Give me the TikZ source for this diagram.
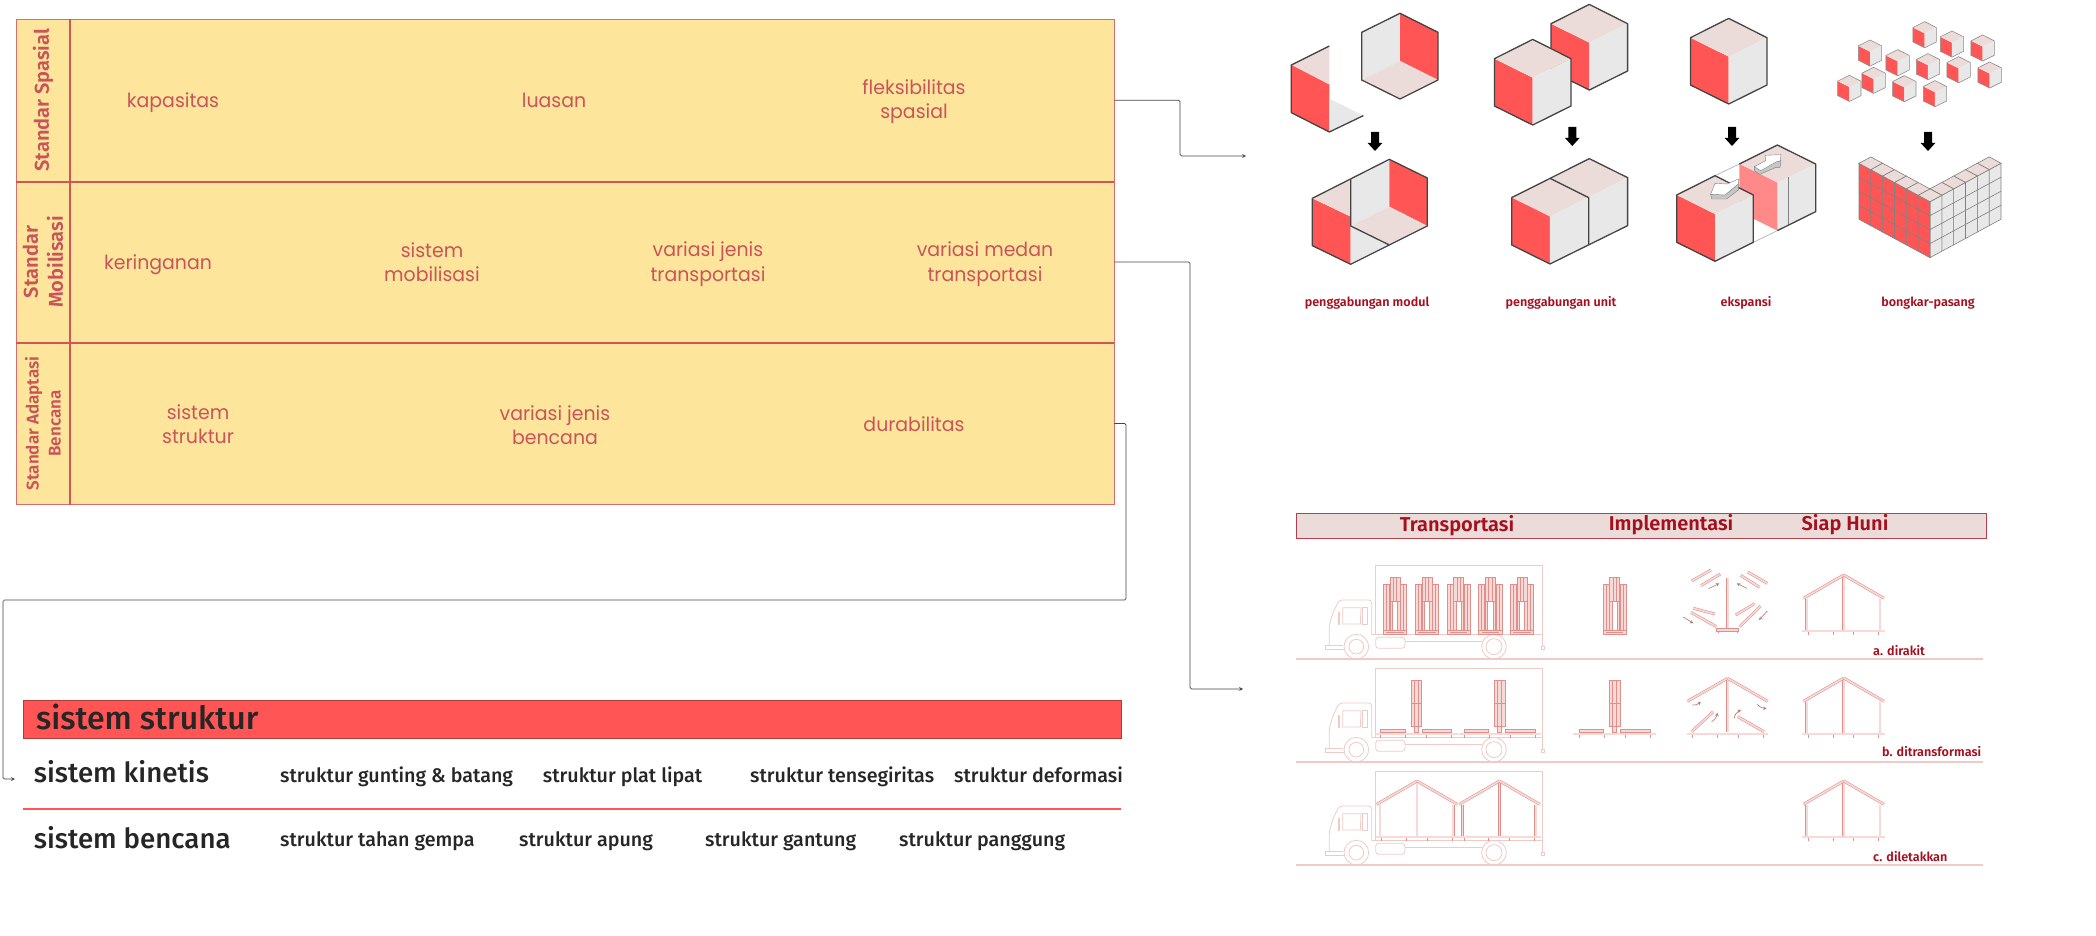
\documentclass[tikz,border=0pt]{standalone}
\usepackage{fontspec}
\usepackage{tikz}
\setmainfont{Fira Sans}[BoldFont={Fira Sans SemiBold}]
\newfontfamily\firamedium{Fira Sans Medium}
\newfontfamily\tablefont{Poppins}[FakeStretch=.97]

\definecolor{tableyellow}{HTML}{FDE59B}
\definecolor{tablerule}{HTML}{CF5558}
\definecolor{tabletext}{HTML}{C9545A}
\definecolor{boxred}{HTML}{FF5555}
\definecolor{facepink}{HTML}{ECDCD9}
\definecolor{facegray}{HTML}{E8E8E8}
\definecolor{edgedark}{HTML}{444444}
\definecolor{labelred}{HTML}{A50F1E}
\definecolor{truckline}{HTML}{EFCBC7}
\definecolor{beamline}{HTML}{E08F8B}
\definecolor{beamfill}{HTML}{F7DAD7}

\tikzset{
  rowcell/.style={fill=tableyellow,draw=tablerule!85,line width=.8pt,minimum width=1044pt,minimum height=162pt,inner sep=0pt},
  sidecell/.style={fill=tableyellow,draw=tablerule!85,line width=.8pt,rotate=90,minimum width=162pt,minimum height=54pt,inner sep=0pt,align=center,text=tabletext,font=\bfseries\fontsize{20}{25}\selectfont},
  celltext/.style={text=tabletext,align=center,inner sep=0pt,font=\tablefont\fontsize{19.5}{24.5}\selectfont},
  tableline/.style={draw=tablerule,line width=2pt},
  linkline/.style={draw=edgedark,line width=.7pt,rounded corners=1.5pt},
  cubeedge/.style={draw=edgedark,line width=1.3pt,line join=round},
  cubelabel/.style={text=labelred,inner sep=0pt,font=\bfseries\fontsize{12.6}{15}\selectfont},
  sectiontext/.style={text=labelred,inner sep=0pt,font=\bfseries\fontsize{20}{24}\selectfont},
  rowtag/.style={text=labelred,inner sep=0pt,anchor=west,font=\bfseries\fontsize{12.6}{15}\selectfont},
  bigtext/.style={text=black!85,inner sep=0pt,anchor=base west,font=\firamedium\fontsize{27.7}{30}\selectfont},
  smalltext/.style={text=black!85,inner sep=0pt,anchor=base west,font=\firamedium\fontsize{19.7}{22}\selectfont},
  truckstroke/.style={draw=truckline,line width=.8pt},
  beam/.style={draw=beamline,double=beamfill,double distance=1.7pt,line width=.55pt},
  beamthin/.style={draw=beamline,line width=.9pt},
  tinyarrow/.style={draw=beamline!80!black,line width=.6pt,->},
  solidcube/.pic={
    \fill[boxred] (0,0) -- (-38.3,-19) -- (-38.3,28.3) -- (0,47.3) -- cycle;
    \fill[facepink] (0,0) -- (-38.3,-19) -- (0,-38.3) -- (38.3,-19) -- cycle;
    \fill[facegray] (0,0) -- (38.3,-19) -- (38.3,28.3) -- (0,47.3) -- cycle;
    \draw[cubeedge] (0,-38.3) -- (38.3,-19) -- (38.3,28.3) -- (0,47.3) -- (-38.3,28.3) -- (-38.3,-19) -- cycle;
  },
  downblock/.pic={
    \fill[black] (-4,0) -- (4,0) -- (4,11) -- (7.3,11) -- (0,19) -- (-7.3,11) -- (-4,11) -- cycle;
  },
  brickleft/.pic={
    \fill[boxred] (0,0) -- (-35.5,-19.2) -- (-35.5,148.8) -- (0,168) -- cycle;
    \draw[draw=gray,line width=.6pt] (0,0) -- (-35.5,-19.2) -- (-35.5,148.8) -- (0,168) -- cycle
      (0,42) -- (-35.5,22.8) (0,84) -- (-35.5,64.8) (0,126) -- (-35.5,106.8);
    \filldraw[fill=facepink,draw=gray,line width=.6pt] (0,0) -- (-35.5,-19.2) -- (0,-38.4) -- (35.5,-19.2) -- cycle;
  },
  brickright/.pic={
    \fill[facegray] (0,0) -- (35.5,-19.2) -- (35.5,148.8) -- (0,168) -- cycle;
    \draw[draw=gray,line width=.6pt] (0,0) -- (35.5,-19.2) -- (35.5,148.8) -- (0,168) -- cycle
      (0,42) -- (35.5,22.8) (0,84) -- (35.5,64.8) (0,126) -- (35.5,106.8);
    \filldraw[fill=facepink,draw=gray,line width=.6pt] (0,0) -- (-35.5,-19.2) -- (0,-38.4) -- (35.5,-19.2) -- cycle;
  },
  truckbody/.pic={
    \draw[truckstroke] (285,403) -- (285,197) -- (787,197) -- (787,440);
    \draw[truckstroke] (275,403) -- (787,403) (375,423) -- (605,423);
    \draw[truckstroke,rounded corners=3pt] (275,405) -- (275,300) -- (178,300) -- (160,335) -- (148,375) -- (148,437);
    \draw[truckstroke] (135,437) -- (190,437) (135,447) -- (193,447) (135,437) -- (135,447);
    \draw[truckstroke] (188,323) -- (243,323) -- (241,372) -- (188,372) -- cycle;
    \draw[truckstroke] (248,323) -- (262,323) -- (262,372) -- (248,372) -- cycle;
    \draw[truckstroke] (174,335) -- (174,375) (179,335) -- (179,375);
    \draw[truckstroke,rounded corners=3pt] (287,412) rectangle (375,445);
    \draw[truckstroke,fill=white] (229,440) circle (37pt);
    \draw[truckstroke] (229,440) circle (22pt);
    \draw[truckstroke,fill=white] (642,440) circle (37pt);
    \draw[truckstroke] (642,440) circle (24pt);
    \draw[truckstroke] (784,440) rectangle (792,447);
  },
  stackunit/.pic={
    \draw[beamthin,fill=beamfill] (-35,-151) rectangle (-17,-11);
    \draw[beamthin,fill=beamfill] (17,-151) rectangle (35,-11);
    \draw[beamthin,fill=beamfill] (-15,-171) rectangle (15,-98);
    \draw[beamthin,fill=beamfill] (-15,-98) rectangle (-8,-11);
    \draw[beamthin,fill=beamfill] (8,-98) rectangle (15,-11);
    \draw[beamthin] (-26,-151) -- (-26,-11) (26,-151) -- (26,-11) (-5,-171) -- (-5,-98) (5,-171) -- (5,-98);
    \draw[beamthin,fill=beamfill] (-35,-11) rectangle (35,0);
    \draw[beamthin] (-26,-6) -- (26,-6);
  },
  foldedunit/.pic={
    \draw[beam] (-123,0) -- (125,0);
    \draw[beamthin,fill=beamfill] (-106,-13) rectangle (-33,-4);
    \draw[beamthin,fill=beamfill] (19,-13) rectangle (107,-4);
    \draw[beamthin,fill=beamfill] (-15,-162) rectangle (17,-22);
    \draw[beamthin] (-5,-162) -- (-5,-22) (7,-162) -- (7,-22) (-15,-92) -- (17,-92);
    \draw[beamthin,fill=beamfill] (-6,-22) rectangle (7,-6);
    \foreach \footx in {-106,-31,32,107} \draw[beamthin] (\footx,4) -- (\footx,12);
  },
  shelterhouse/.pic={
    \draw[beam] (-124,0) -- (124,0);
    \draw[beam] (0,-164) -- (0,-4);
    \draw[beam] (-111,-95) -- (-111,-4);
    \draw[beam] (109,-95) -- (109,-4);
    \draw[beam] (-121,-98) -- (0,-168);
    \draw[beam] (0,-168) -- (121,-98);
    \foreach \footx in {-106,-32,30,105} \draw[beamthin] (\footx,4) -- (\footx,12);
  }
}

\begin{document}
\begin{tikzpicture}[x=1pt,y=-1pt,>=stealth]
  \useasboundingbox (0,0) rectangle (2096,936);

  % table
  \node[rowcell] (rowspasial) at (592,100.25) {};
  \node[rowcell] (rowmobilisasi) at (592,262) {};
  \node[rowcell] (rowbencana) at (592,423.5) {};
  \node[sidecell] (sidespasial) at (43,100.25) {Standar Spasial};
  \node[sidecell] (sidemobilisasi) at (43,262) {Standar\\Mobilisasi};
  \node[sidecell,font=\bfseries\fontsize{17}{22}\selectfont] (sidebencana) at (43,423.5) {Standar Adaptasi\\Bencana};
  \draw[tableline] (sidespasial.south east) -- (sidebencana.south west);
  \draw[tableline] (sidespasial.north west) -- (rowspasial.south east);
  \draw[tableline] (sidemobilisasi.north west) -- (rowmobilisasi.south east);

  \node[celltext] (kapasitas) at (173,102.5) {kapasitas};
  \node[celltext] (luasan) at (554,100) {luasan};
  \node[celltext] (fleksibilitas) at (914,101.5) {fleksibilitas\\spasial};
  \node[celltext] (keringanan) at (158,264.5) {keringanan};
  \node[celltext] (mobilisasi) at (432,262) {sistem\\mobilisasi};
  \node[celltext] (jenistrans) at (708,264) {variasi jenis\\transportasi};
  \node[celltext] (medantrans) at (985,264) {variasi medan\\transportasi};
  \node[celltext] (struktur) at (198,424) {sistem\\struktur};
  \node[celltext] (jenisbencana) at (555,425) {variasi jenis\\bencana};
  \node[celltext] (durabilitas) at (914,424) {durabilitas};

  % links
  \coordinate (bendspasial) at (1180,156);
  \coordinate (cubesin) at (1246,156);
  \coordinate (bendmobil) at (1190,689);
  \coordinate (trucksin) at (1243,689);
  \coordinate (bendbencana) at (1126,600);
  \coordinate (bendleft) at (3,600);
  \coordinate (kinetisin) at (15,779);
  \draw[linkline,->] (rowspasial.east) -| (bendspasial) -- (cubesin);
  \draw[linkline,->] (rowmobilisasi.east) -| (bendmobil) -- (trucksin);
  \draw[linkline,->] (rowbencana.east) -| (bendbencana) -- (bendleft) |- (kinetisin);

  % sistem struktur list
  \node[fill=boxred,draw=boxred!70!black,line width=1pt,minimum width=1098pt,minimum height=38pt,inner sep=0pt,anchor=west] (strukturbar) at (22.6,719.7) {};
  \node[bigtext,font=\firamedium\fontsize{32}{34}\selectfont] (strukturtitle) at (36,729) {sistem struktur};
  \node[bigtext] (kinetis) at (33.7,782.7) {sistem kinetis};
  \node[bigtext] (bencana) at (33.7,848) {sistem bencana};
  \coordinate (dividerleft) at (22.6,809);
  \coordinate (dividerright) at (1121,809);
  \draw[draw=boxred,line width=1.7pt] (dividerleft) -- (dividerright);
  \node[smalltext] (gunting) at (280,782.7) {struktur gunting \& batang};
  \node[smalltext] (plat) at (542.7,782.7) {struktur plat lipat};
  \node[smalltext] (tensegritas) at (750,782.7) {struktur tensegiritas};
  \node[smalltext] (deformasi) at (954,782.7) {struktur deformasi};
  \node[smalltext] (gempa) at (280,846) {struktur tahan gempa};
  \node[smalltext] (apung) at (519,846) {struktur apung};
  \node[smalltext] (gantung) at (705,846) {struktur gantung};
  \node[smalltext] (panggung) at (899,846) {struktur panggung};

  % penggabungan modul
  \begin{scope}[shift={(1260,0)},scale=.3333]
    \fill[facegray] (305,97) -- (420,40) -- (420,183) -- (305,240) -- cycle;
    \fill[boxred] (420,40) -- (534,97) -- (534,240) -- (420,183) -- cycle;
    \fill[facepink] (420,183) -- (534,240) -- (420,297) -- (305,240) -- cycle;
    \draw[cubeedge] (420,40) -- (534,97) -- (534,240) -- (420,297) -- (305,240) -- (305,97) -- cycle;
    \fill[facepink] (94,195) -- (208,138) -- (208,254) -- cycle;
    \fill[boxred] (94,195) -- (208,254) -- (208,396) -- (94,338) -- cycle;
    \fill[facegray] (208,296) -- (310,347) -- (208,396) -- cycle;
    \draw[cubeedge] (208,138) -- (94,195) -- (94,338) -- (208,396) -- (310,347);
    \fill[boxred] (157,595) -- (272,650) -- (272,793) -- (157,737) -- cycle;
    \fill[facepink] (157,595) -- (272,538) -- (272,650) -- cycle;
    \fill[facegray] (272,538) -- (388,478) -- (388,620) -- (272,678) -- cycle;
    \fill[boxred] (388,478) -- (502,534) -- (502,678) -- (388,620) -- cycle;
    \fill[facepink] (388,620) -- (502,678) -- (388,735) -- (272,678) -- cycle;
    \fill[facegray] (272,678) -- (388,735) -- (272,793) -- cycle;
    \draw[cubeedge] (157,595) -- (388,478) -- (502,534) -- (502,678) -- (272,793) -- (157,737) -- cycle;
    \draw[cubeedge] (272,538) -- (272,678) -- (388,735);
  \end{scope}
  \pic at (1375,132) {downblock};
  \node[cubelabel] (modul) at (1367,303) {penggabungan modul};

  % penggabungan unit
  \pic at (1589.3,42.7) {solidcube};
  \pic at (1532.7,77.7) {solidcube};
  \begin{scope}[shift={(1260,0)},scale=.3333]
    \fill[facepink] (755,593) -- (988,476) -- (1103,533) -- (870,650) -- cycle;
    \fill[boxred] (755,593) -- (870,650) -- (870,792) -- (755,735) -- cycle;
    \fill[facegray] (870,650) -- (1103,533) -- (1103,677) -- (870,792) -- cycle;
    \draw[cubeedge] (755,593) -- (988,476) -- (1103,533) -- (1103,677) -- (870,792) -- (755,735) -- cycle;
    \draw[cubeedge] (870,535) -- (986,593) -- (986,735);
  \end{scope}
  \pic at (1572.3,127) {downblock};
  \node[cubelabel] (unit) at (1561,303) {penggabungan unit};

  % ekspansi
  \pic at (1728.7,56.7) {solidcube};
  \pic at (1732,127) {downblock};
  \begin{scope}[shift={(1670,140)},scale=.3333]
    \draw[draw=gray!60,line width=.7pt] (135,107) -- (208,72) (250,307) -- (322,272);
    \fill[facepink] (208,72) -- (322,15) -- (437,72) -- (322,128) -- cycle;
    \fill[facegray] (322,128) -- (437,72) -- (437,215) -- (322,272) -- cycle;
    \fill[boxred!70!white] (208,72) -- (322,128) -- (322,272) -- (208,215) -- cycle;
    \draw[draw=gray,line width=.8pt] (355,112) -- (355,255);
    \draw[cubeedge] (208,72) -- (322,15) -- (437,72) -- (437,215) -- (322,272);
  \end{scope}
  \pic at (1715,214) {solidcube};
  \begin{scope}[shift={(1670,140)},scale=.3333]
    \filldraw[fill=gray!45,draw=gray,line width=.4pt] (253,80) -- (253,93) -- (270,103) -- (318,82) -- (330,82) -- (333,62) -- cycle;
    \filldraw[fill=white,draw=gray,line width=.4pt] (253,80) -- (287,62) -- (285,46) -- (333,44) -- (331,62) -- (318,66) -- (272,92) -- cycle;
    \filldraw[fill=gray!45,draw=gray,line width=.4pt] (122,163) -- (125,177) -- (170,177) -- (205,150) -- (205,132) -- (165,165) -- cycle;
    \filldraw[fill=white,draw=gray,line width=.4pt] (205,117) -- (172,132) -- (135,130) -- (122,163) -- (165,165) -- (205,132) -- cycle;
  \end{scope}
  \node[cubelabel] (ekspansi) at (1746,303) {ekspansi};

  % bongkar-pasang
  \begin{scope}[shift={(1660,0)},scale=.3333,cubeedge/.style={draw=gray!90,line width=.6pt}]
    \foreach \cubex/\cubey in {794/100,876/128,968/140,630/155,713/184,804/196,896/205,989/221,641/237,568/261,733/262,825/277}
      \pic[scale=.305] at (\cubex,\cubey) {solidcube};
    \foreach \j in {5,4,3,2,1,0}
      \pic[scale=.3333] at ({810+35.5*\j},{605-19.2*\j}) {brickright};
    \foreach \i in {1,2,3,4,5,6}
      \pic[scale=.3333] at ({597+35.5*\i},{490+19.2*\i}) {brickleft};
  \end{scope}
  \pic at (1928,132) {downblock};
  \node[cubelabel] (bongkar) at (1928,303) {bongkar-pasang};

  % header bar
  \node[fill=facepink,draw=labelred!80,line width=1pt,minimum width=690pt,minimum height=25pt,inner sep=0pt,anchor=west] (headerbar) at (1296,525.5) {};
  \node[sectiontext] (transportasi) at (1457,525.5) {Transportasi};
  \node[sectiontext] (implementasi) at (1671,524.5) {Implementasi};
  \node[sectiontext] (siaphuni) at (1845,524.5) {Siap Huni};

  % trucks and ground
  \foreach \rowy in {500,603,706}
    \pic[scale=.3333] at (1280,\rowy) {truckbody};
  \foreach \groundy in {659,762,865}
    \draw[draw=truckline,line width=1.1pt] (1296,\groundy) -- (1983,\groundy);

  % a. dirakit
  \foreach \stackx in {1395,1427,1458.7,1490.3,1522,1614.7}
    \pic[scale=.3333] at (\stackx,634.3) {stackunit};
  \begin{scope}[shift={(1640,500)},scale=.3333]
    \draw[beam] (263,235) -- (263,384);
    \draw[beamthin,fill=beamfill] (230,385) rectangle (296,393);
    \draw[beamthin] (234,393) -- (234,400) (293,393) -- (293,400);
    \draw[beam] (155,243) -- (213,210);
    \draw[beam] (183,257) -- (241,222);
    \draw[beam] (323,216) -- (382,250);
    \draw[beam] (302,226) -- (359,262);
    \draw[beam] (160,325) -- (225,342);
    \draw[beam] (153,337) -- (229,380);
    \draw[beam] (287,345) -- (344,311);
    \draw[beam] (299,380) -- (362,318);
    \draw[tinyarrow] (206,266) -- (238,250);
    \draw[tinyarrow] (321,265) -- (290,250);
    \draw[tinyarrow] (130,351) -- (160,370);
    \draw[tinyarrow] (382,333) -- (357,360);
  \end{scope}
  \pic[scale=.3333] at (1843.7,631) {shelterhouse};
  \node[rowtag] (dirakit) at (1873,651) {a. dirakit};

  % b. ditransformasi
  \foreach \unitx in {1416,1499.5,1614.3}
    \pic[scale=.3333] at (\unitx,734) {foldedunit};
  \begin{scope}[shift={(1640,500)},scale=.3333]
    \draw[beam] (263,537) -- (263,696);
    \draw[beam] (142,604) -- (263,535);
    \draw[beam] (263,535) -- (383,604);
    \draw[beam] (140,702) -- (385,702);
    \draw[beam] (155,695) -- (220,635);
    \draw[beam] (372,695) -- (293,650);
    \foreach \footx in {157,232,294,369} \draw[beamthin] (\footx,706) -- (\footx,714);
    \draw[tinyarrow] (157,615) to[bend right=25] (182,605);
    \draw[tinyarrow] (352,613) to[bend right=25] (380,625);
    \draw[tinyarrow] (215,665) to[bend right=25] (232,638);
    \draw[tinyarrow] (282,655) to[bend left=25] (303,630);
  \end{scope}
  \pic[scale=.3333] at (1843.7,734) {shelterhouse};
  \node[rowtag] (ditransformasi) at (1882,752) {b. ditransformasi};

  % c. diletakkan
  \foreach \housex in {1417,1499.5,1843.7}
    \pic[scale=.3333] at (\housex,837) {shelterhouse};
  \node[rowtag] (diletakkan) at (1873,857) {c. diletakkan};
\end{tikzpicture}
\end{document}
